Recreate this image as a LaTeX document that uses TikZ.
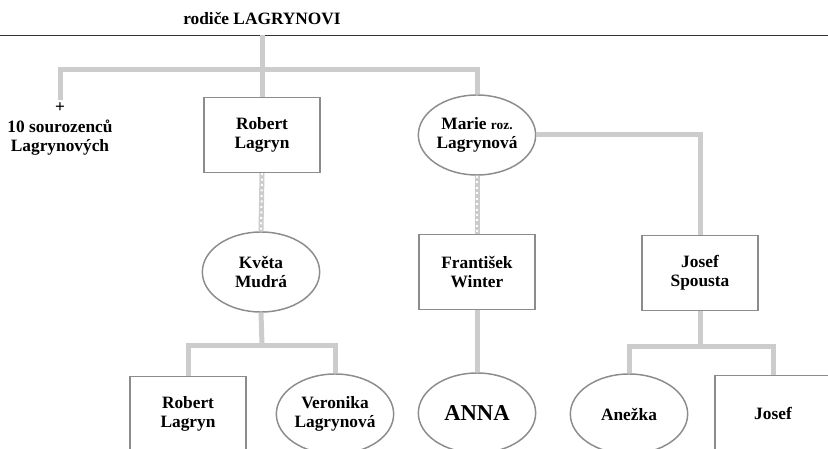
\documentclass[tikz,border=0pt]{standalone}
\usepackage{fontspec}
\setmainfont{Liberation Serif}
\usepackage{tikz}
\usetikzlibrary{positioning,shapes}
\definecolor{spoj}{RGB}{204,204,204}
\definecolor{obrys}{RGB}{140,140,140}

\begin{document}
\begin{tikzpicture}[x=0.75pt,y=-0.75pt,inner sep=2pt,
    jmeno/.style={align=center,font=\fontsize{13}{14.5}\selectfont\bfseries},
    muz/.style={jmeno,rectangle,draw=obrys,line width=1.1pt,fill=white,minimum width=87pt,minimum height=56pt},
    zena/.style={jmeno,ellipse,draw=obrys,line width=1.1pt,fill=white,inner sep=0pt,minimum width=88pt,minimum height=60pt},
    vazba/.style={draw=spoj,line width=3.75pt},
    snatek/.style={vazba,postaction={draw=white,line width=1.5pt,dash pattern=on 1.5pt off 2.6pt}}]
        \useasboundingbox (0,0) rectangle (828,449);
        \clip (0,0) rectangle (828,449);

        %rodice
            \draw (262,19) node(rodice) [jmeno] {rodiče LAGRYNOVI};
            \draw[line width=0.7pt,black!80] (0,35) -- (828,35);
            \coordinate (linka) at (262,35);
            \coordinate (deti) at (262,70);

        %1. generace
            \draw (60,100) node(sourozenci) [jmeno,anchor=north] {+\\10 sourozenců\\Lagrynových}
                  (262,135) node(robert) [muz] {Robert\\Lagryn}
                  (477,135) node(marie) [zena] {Marie {\fontsize{10}{12}\selectfont roz.}\\Lagrynová};

        %2. generace
            \draw (261,272) node(kveta) [zena] {Květa\\Mudrá}
                  (477,272) node(frantisek) [muz] {František\\Winter}
                  (700,273) node(spousta) [muz] {Josef\\Spousta};

        %3. generace
            \draw (188,414) node(robertml) [muz] {Robert\\Lagryn}
                  (335,414) node(veronika) [zena] {Veronika\\Lagrynová}
                  (477,413) node(anna) [zena,font=\fontsize{17}{19}\selectfont\bfseries] {ANNA}
                  (629,414) node(anezka) [zena] {Anežka}
                  (773,413) node(josef) [muz] {Josef};
            \coordinate (kvdeti) at (262,345);
            \coordinate (spdeti) at (700,346);

        %spojnice
            \draw[vazba] (linka) to (robert.north);
            \draw[vazba] (sourozenci.north) |- (deti) -| (marie.north);
            \draw[vazba] (marie.east) -| (spousta.north);
            \draw[snatek] (robert.south) to (kveta.north);
            \draw[snatek] (marie.south) to (frantisek.north);
            \draw[vazba] (kveta.south) to (kvdeti);
            \draw[vazba] (robertml.north) |- (kvdeti) -| (veronika.north);
            \draw[vazba] (frantisek.south) to (anna.north);
            \draw[vazba] (spousta.south) to (spdeti);
            \draw[vazba] (anezka.north) |- (spdeti) -| (josef.north);
        \end{tikzpicture}
\end{document}
